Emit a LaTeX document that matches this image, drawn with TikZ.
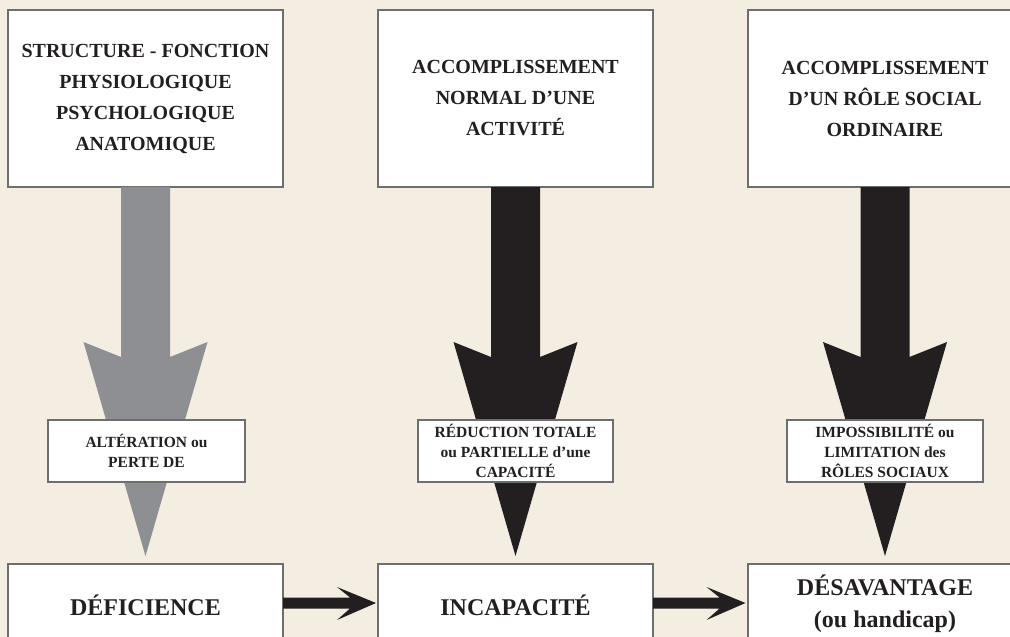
\documentclass[tikz,border=0pt]{standalone}
\usepackage{fontspec}
\setmainfont{Liberation Serif}
\usetikzlibrary{calc}
\definecolor{bg}{RGB}{244,237,225}
\definecolor{ink}{RGB}{35,31,32}
\definecolor{arrowgray}{RGB}{142,143,147}
\definecolor{frame}{RGB}{110,110,110}
\newcommand\vblock[2]{\fill[#2] ($(#1.south)+(-24.5,-1)$) -- ++(0,170) -- ++(-37.5,-15) -- ++(62,214) -- ++(62,-214) -- ++(-37.5,15) -- ++(0,-170) -- cycle;}
\newcommand\hblock[2]{\fill[ink] ($(#1.east)+(-1,-7.5)$) -- ($(#2.west)+(-27,-7.5)$) -- ($(#2.west)+(-40,-18)$) -- ($(#2.west)+(-1,-2)$) -- ($(#2.west)+(-40,15)$) -- ($(#2.west)+(-27,3.5)$) -- ($(#1.east)+(-1,3.5)$) -- cycle;}
\begin{document}
\begin{tikzpicture}[x=1pt,y=-1pt,
  box/.style={draw=frame, line width=2pt, fill=white, text=ink, font=\bfseries, align=center, inner sep=0pt},
  topbox/.style={box, minimum width=275pt, minimum height=177pt, font=\bfseries\fontsize{20}{31}\selectfont},
  labelbox/.style={box, minimum width=196pt, minimum height=62pt, font=\bfseries\fontsize{15.5}{20}\selectfont},
  botbox/.style={box, minimum width=275pt, minimum height=82pt, font=\bfseries\fontsize{24}{32}\selectfont}]
\useasboundingbox (0,0) rectangle (1010,637);
\clip (0,0) rectangle (1010,637);
\fill[bg] (0,0) rectangle (1010,637);
% top boxes
\node[topbox] (t1) at (145.5,98.5) {STRUCTURE - FONCTION\\PHYSIOLOGIQUE\\PSYCHOLOGIQUE\\ANATOMIQUE};
\node[topbox] (t2) at (515.5,98.5) {ACCOMPLISSEMENT\\NORMAL D’UNE\\ACTIVITÉ};
\node[topbox] (t3) at (885,98.5) {ACCOMPLISSEMENT\\D’UN RÔLE SOCIAL\\ORDINAIRE};
% block arrows
\vblock{t1}{arrowgray}
\vblock{t2}{ink}
\vblock{t3}{ink}
% labels on arrows
\node[labelbox, minimum width=197pt] (l1) at (146.5,451) {ALTÉRATION ou\\PERTE DE};
\node[labelbox, minimum width=195pt] (l2) at (515.5,451) {RÉDUCTION TOTALE\\ou PARTIELLE d’une\\CAPACITÉ};
\node[labelbox] (l3) at (885,451) {IMPOSSIBILITÉ ou\\LIMITATION des\\RÔLES SOCIAUX};
% bottom boxes
\node[botbox] (b1) at (145.5,605) {DÉFICIENCE};
\node[botbox] (b2) at (515.5,605) {INCAPACITÉ};
\node[botbox] (b3) at (885,605) {\raisebox{4pt}{\begin{tabular}{@{}c@{}}DÉSAVANTAGE\\(ou handicap)\end{tabular}}};
% horizontal arrows
\hblock{b1}{b2}
\hblock{b2}{b3}
\end{tikzpicture}
\end{document}
